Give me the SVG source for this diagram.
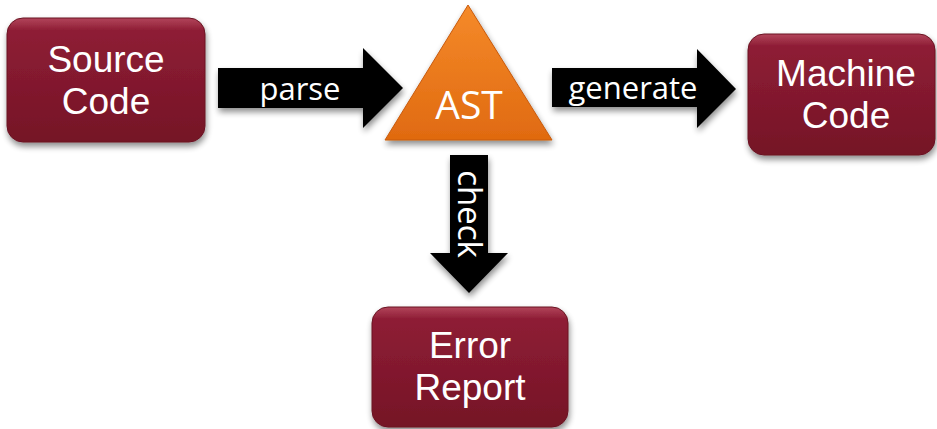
<svg xmlns="http://www.w3.org/2000/svg" width="937" height="429" viewBox="0 0 937 429">
<defs>
<linearGradient id="boxG" x1="0" y1="0" x2="0" y2="1">
<stop offset="0" stop-color="#b2455b"/>
<stop offset="0.1" stop-color="#8e1d35"/>
<stop offset="1" stop-color="#751426"/>
</linearGradient>
<linearGradient id="triG" x1="0" y1="0" x2="0" y2="1">
<stop offset="0" stop-color="#f58a2a"/>
<stop offset="1" stop-color="#e06a10"/>
</linearGradient>
<filter id="sh" x="-20%" y="-20%" width="140%" height="150%">
<feGaussianBlur in="SourceAlpha" stdDeviation="3"/>
<feOffset dx="1" dy="4" result="b"/>
<feComponentTransfer><feFuncA type="linear" slope="0.45"/></feComponentTransfer>
<feMerge><feMergeNode/><feMergeNode in="SourceGraphic"/></feMerge>
</filter>
<style>
.box{fill:url(#boxG);stroke:#6a1222;stroke-width:1;filter:url(#sh)}
.lbl{font-family:"Open Sans","Liberation Sans",sans-serif;fill:#fff;text-anchor:middle}
.big{font-family:"Liberation Sans",Arial,sans-serif;font-size:37px}
.ast{font-size:39px}
.arr{fill:#000;filter:url(#sh)}
.al{font-size:31px}
</style>
</defs>
<g id="connectors">
<g id="parse">
<polygon class="arr" points="218,68 363,68 363,48 403,88 363,128 363,108 218,108"/>
<text class="lbl al" x="300" y="100">parse</text>
</g>
<g id="generate">
<polygon class="arr" points="552,68 697,68 697,49 736,89 697,128 697,107 552,107"/>
<text class="lbl al" x="633" y="99">generate</text>
</g>
<g id="check">
<polygon class="arr" points="450,155 488,155 488,253 508,253 469,293 430,253 450,253"/>
<text class="lbl" style="font-size:33px" transform="translate(458,214) rotate(90)" x="0" y="0">check</text>
</g>
</g>
<g id="source">
<rect class="box" x="7" y="18" width="198" height="124" rx="16"/>
<text class="lbl big"><tspan x="106" y="72">Source</tspan><tspan x="106" y="114">Code</tspan></text>
</g>
<g id="ast">
<polygon points="468,5 552,140 385,140" fill="url(#triG)" stroke="#c85a0c" stroke-width="1" filter="url(#sh)"/>
<text class="lbl ast" x="469" y="119">AST</text>
</g>
<g id="machine">
<rect class="box" x="748" y="34" width="187" height="121" rx="16"/>
<text class="lbl big"><tspan x="846" y="86">Machine</tspan><tspan x="846" y="128">Code</tspan></text>
</g>
<g id="error">
<rect class="box" x="372" y="307" width="196" height="120" rx="16"/>
<text class="lbl big"><tspan x="470" y="358">Error</tspan><tspan x="470" y="400">Report</tspan></text>
</g>
</svg>
